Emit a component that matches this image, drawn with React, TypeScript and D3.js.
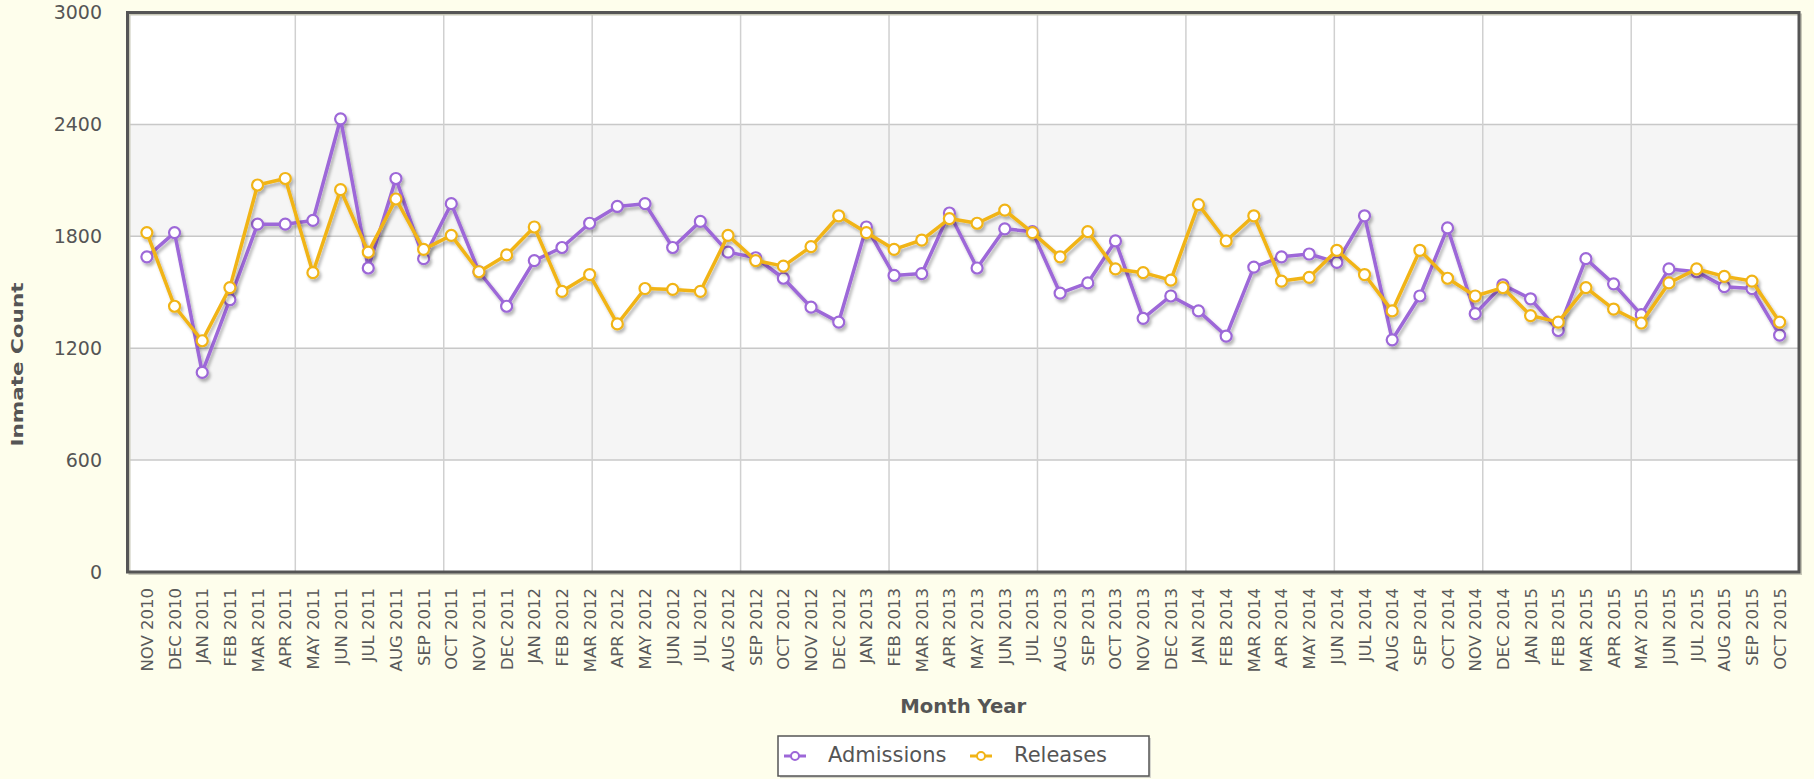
import * as d3 from "d3";
import React from "react";

// month labels, Nov 2010 - Oct 2015
const months = [
  "NOV 2010", "DEC 2010",
  "JAN 2011", "FEB 2011", "MAR 2011", "APR 2011", "MAY 2011", "JUN 2011",
  "JUL 2011", "AUG 2011", "SEP 2011", "OCT 2011", "NOV 2011", "DEC 2011",
  "JAN 2012", "FEB 2012", "MAR 2012", "APR 2012", "MAY 2012", "JUN 2012",
  "JUL 2012", "AUG 2012", "SEP 2012", "OCT 2012", "NOV 2012", "DEC 2012",
  "JAN 2013", "FEB 2013", "MAR 2013", "APR 2013", "MAY 2013", "JUN 2013",
  "JUL 2013", "AUG 2013", "SEP 2013", "OCT 2013", "NOV 2013", "DEC 2013",
  "JAN 2014", "FEB 2014", "MAR 2014", "APR 2014", "MAY 2014", "JUN 2014",
  "JUL 2014", "AUG 2014", "SEP 2014", "OCT 2014", "NOV 2014", "DEC 2014",
  "JAN 2015", "FEB 2015", "MAR 2015", "APR 2015", "MAY 2015", "JUN 2015",
  "JUL 2015", "AUG 2015", "SEP 2015", "OCT 2015",
];

const admissions = [
  1690, 1820,
  1070, 1460, 1865, 1865, 1885, 2430, 1630, 2110, 1680, 1975, 1610, 1425,
  1670, 1740, 1870, 1960, 1975, 1740, 1880, 1715, 1685, 1575, 1420, 1340,
  1850, 1590, 1600, 1925, 1630, 1840, 1825, 1495, 1550, 1775, 1360, 1480,
  1400, 1265, 1635, 1690, 1705, 1660, 1910, 1245, 1480, 1845, 1385, 1540,
  1465, 1295, 1680, 1545, 1380, 1625, 1610, 1530, 1520, 1270,
];

const releases = [
  1820, 1425,
  1240, 1525, 2075, 2110, 1605, 2050, 1715, 2000, 1730, 1805, 1610, 1700,
  1850, 1505, 1595, 1330, 1520, 1515, 1505, 1805, 1670, 1640, 1745, 1910,
  1820, 1730, 1780, 1895, 1870, 1940, 1820, 1690, 1825, 1625, 1605, 1565,
  1970, 1775, 1910, 1560, 1580, 1725, 1595, 1400, 1725, 1575, 1480, 1525,
  1375, 1340, 1525, 1410, 1335, 1550, 1625, 1585, 1560, 1340,
];

const yTicks = [0, 600, 1200, 1800, 2400, 3000];

const series = [
  { name: "Admissions", values: admissions, color: "#9d67d8" },
  { name: "Releases", values: releases, color: "#f1b416" },
];

const W = 1814;
const H = 779;
const left = 127.5, right = 1799, top = 12.5, bottom = 572;
const font = "'DejaVu Sans', Verdana, sans-serif";
const textColor = "#555";

export default function App() {
  const x = d3.scalePoint<string>().domain(months).range([left, right]).padding(0.7);
  const y = d3.scaleLinear().domain([0, 3000]).range([bottom, top]);

  // 10 vertical div lines spread over the first..last point span
  const x0 = x(months[0])!;
  const x1 = x(months[months.length - 1])!;
  const vLines = d3.range(1, 11).map((k) => x0 + ((x1 - x0) * k) / 11);

  const line = d3
    .line<number>()
    .x((_, i) => x(months[i])!)
    .y((d) => y(d));

  return (
    <svg
      width={W}
      height={H}
      style={{ position: "absolute", left: 0, top: 0, display: "block" }}
      fontFamily={font}
    >
      <defs>
        <filter id="shadow" x="-5%" y="-5%" width="110%" height="120%">
          <feDropShadow dx="2" dy="3" stdDeviation="1.6" floodColor="#000" floodOpacity="0.28" />
        </filter>
      </defs>
      <rect width={W} height={H} fill="#fefeec" />

      {/* plot background with alternating bands */}
      <rect x={left} y={top} width={right - left} height={bottom - top} fill="#fff" />
      {yTicks.slice(0, -1).map((t, i) =>
        i % 2 === 1 ? (
          <rect
            key={"band" + t}
            x={left}
            y={y(yTicks[i + 1])}
            width={right - left}
            height={y(t) - y(yTicks[i + 1])}
            fill="#f5f5f5"
          />
        ) : null
      )}
      {yTicks.slice(1, -1).map((t) => (
        <line key={"h" + t} x1={left} x2={right} y1={y(t)} y2={y(t)} stroke="#c8c8c8" strokeWidth={1.5} />
      ))}
      {vLines.map((v, i) => (
        <line key={"v" + i} x1={v} x2={v} y1={top} y2={bottom} stroke="#d0d0d0" strokeWidth={1.5} />
      ))}

      {/* border */}
      <rect
        x={left + 2}
        y={top + 2}
        width={right - left}
        height={bottom - top}
        fill="none"
        stroke="#c8c8b8"
        strokeWidth={2}
      />
      <rect x={left} y={top} width={right - left} height={bottom - top} fill="none" stroke="#555" strokeWidth={3} />

      {/* series */}
      {series.map((s) => (
        <g key={s.name} filter="url(#shadow)">
          <path d={line(s.values)!} fill="none" stroke={s.color} strokeWidth={3.5} strokeLinejoin="round" />
          {s.values.map((v, i) => (
            <circle key={i} cx={x(months[i])} cy={y(v)} r={5.5} fill="#fff" stroke={s.color} strokeWidth={2.2} />
          ))}
        </g>
      ))}

      {/* y axis */}
      {yTicks.map((t) => (
        <text key={"yt" + t} x={102} y={y(t)} dy="0.36em" textAnchor="end" fontSize={19} fill={textColor}>
          {t}
        </text>
      ))}
      <text
        transform="translate(23,364.5) rotate(-90)"
        textAnchor="middle"
        fontSize={16}
        fontWeight="bold"
        fill={textColor}
        textLength={164}
        lengthAdjust="spacingAndGlyphs"
      >
        Inmate Count
      </text>

      {/* x axis */}
      {months.map((m) => (
        <text
          key={m}
          transform={`translate(${x(m)! + 6},588) rotate(-90)`}
          textAnchor="end"
          fontSize={16.5}
          fill="#5a5a5a"
        >
          {m}
        </text>
      ))}
      <text
        x={(left + right) / 2}
        y={713}
        textAnchor="middle"
        fontSize={19}
        fontWeight="bold"
        fill={textColor}
        textLength={126}
        lengthAdjust="spacingAndGlyphs"
      >
        Month Year
      </text>

      {/* legend */}
      <rect x={780} y={738} width={371} height={40} fill="#bbb" opacity={0.6} />
      <rect x={778} y={736} width={371} height={40} fill="#fff" stroke="#555" strokeWidth={1.5} />
      {series.map((s, i) => {
        const mx = i === 0 ? 795 : 981;
        return (
          <g key={"lg" + s.name}>
            <line x1={mx - 11} x2={mx + 11} y1={756} y2={756} stroke={s.color} strokeWidth={3} />
            <circle cx={mx} cy={756} r={4} fill="#fff" stroke={s.color} strokeWidth={2} />
            <text x={mx + 33} y={762} fontSize={21} fill={textColor}>
              {s.name}
            </text>
          </g>
        );
      })}
    </svg>
  );
}
